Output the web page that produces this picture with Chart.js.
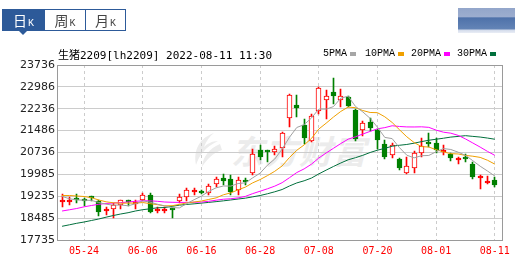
<!DOCTYPE html>
<html>
<head>
<meta charset="utf-8">
<script src="https://cdn.jsdelivr.net/npm/chart.js@4.4.0/dist/chart.umd.min.js"></script>
<style>
  body { margin: 0; background: #fff; }
  #box { position: relative; width: 515px; height: 260px; overflow: hidden; background: #fff; }
  #chart { position: absolute; left: 0; top: 0; z-index: 1; }
  .tabs { position: absolute; left: 2px; top: 9px; width: 122px; height: 20px; border: 1px solid #2d5a99; z-index: 2; }
  .tab { position: absolute; top: 0; height: 20px; line-height: 20px; text-align: center; color: #444; white-space: nowrap; }
  .tab .c { font: 14px "Noto Sans CJK SC"; vertical-align: baseline; }
  .tab .k { font: 10px "Liberation Mono"; vertical-align: baseline; margin-left: 1px; }
  .tab.on { background: #2d5a99; color: #fff; }
  .arrow { position: absolute; left: 19px; top: 31px; width: 0; height: 0; border-left: 4px solid transparent; border-right: 4px solid transparent; border-top: 4px solid #2d5a99; z-index: 2; }
  .blur { position: absolute; left: 458px; top: 8px; width: 57px; height: 25px; z-index: 2;
    background: linear-gradient(to bottom, #93a6ca 0%, #9cadcf 34%, #4f72aa 40%, #6384b6 84%, #d3dbeb 88%, #e9edf5 100%); }
  #title { position: absolute; left: 58px; top: 46px; font: 11px "DejaVu Sans Mono"; line-height: 16px; color: #000; white-space: pre; z-index: 2; }
  #title .cn { font: 11px "Noto Sans CJK SC"; }
  .lg { position: absolute; top: 46px; font: 10px "Liberation Mono"; line-height: 15px; color: #000; z-index: 2; }
  .sq { position: absolute; top: 52px; width: 6px; height: 4px; z-index: 2; }
  .wm { position: absolute; left: 231px; top: 126px; font: italic bold 33px "Noto Sans CJK SC"; color: #ececec; letter-spacing: 1px; z-index: 0; }
  .logo { position: absolute; left: 190px; top: 132px; z-index: 0; }
</style>
</head>
<body>
<div id="box">
  <div class="tabs">
    <div class="tab on" style="left:0;width:41px"><span class="c">日</span><span class="k">K</span></div>
    <div class="tab" style="left:41px;width:40px;border-left:1px solid #2d5a99"><span class="c">周</span><span class="k">K</span></div>
    <div class="tab" style="left:82px;width:39px;border-left:1px solid #2d5a99"><span class="c">月</span><span class="k">K</span></div>
  </div>
  <div class="arrow"></div>
  <div class="blur"></div>
  <div id="title"><span class="cn">生猪</span>2209[lh2209] 2022-08-11 11:30</div>
  <div class="lg" style="left:323px">5PMA</div><div class="sq" style="left:350px;background:#a6a6a6"></div>
  <div class="lg" style="left:365px">10PMA</div><div class="sq" style="left:398px;background:#f0a000"></div>
  <div class="lg" style="left:411px">20PMA</div><div class="sq" style="left:444px;background:#ff00ff"></div>
  <div class="lg" style="left:457px">30PMA</div><div class="sq" style="left:490px;background:#006f3c"></div>
  <svg class="logo" width="34" height="36" viewBox="0 0 34 36">
    <path d="M24 1 C10 6 3 17 6 33 C9 24 15 15 28 9 C22 9 17 12 14 15 C16 9 20 4 24 1 Z" fill="#ececec"/>
    <path d="M30 12 C20 16 13 24 12 35 C17 27 23 21 32 18 Z" fill="#ececec"/>
  </svg>
  <div class="wm">东方财富</div>
  <canvas id="chart" width="515" height="260"></canvas>
</div>
<script>
const xLabels = ['05-24', '06-06', '06-16', '06-28', '07-08', '07-20', '08-01', '08-11'];
const xTickIdx = [3, 11, 19, 27, 35, 43, 51, 59];
const yTicks = [17735, 18485, 19235, 19985, 20736, 21486, 22236, 22986, 23736];

const opens = [19030, 19030, 19120, 19095, 19200, 19083, 18740, 18788, 18925, 19060,
  18975, 19107, 19278, 18715, 18715, 18780, 19072, 19220, 19375, 19385,
  19336, 19655, 19871, 19816, 19450, 19792, 20022, 20821, 20775, 20742,
  20890, 21908, 22364, 21678, 21140, 22148, 22536, 22800, 22536, 22628,
  22203, 21517, 21771, 21507, 21027, 20650, 20512, 20043, 20194, 20708,
  21065, 21051, 20742, 20674, 20465, 20591, 20341, 19848, 19679, 19792];
const highs = [19302, 19220, 19312, 19185, 19244, 19107, 18856, 18993, 19107, 19107,
  19107, 19357, 19336, 18856, 18856, 18820, 19312, 19508, 19528, 19450,
  19645, 19885, 19988, 19964, 19885, 19851, 20845, 20993, 20821, 20969,
  21428, 22741, 22707, 21884, 22056, 22992, 22879, 23290, 22913, 22662,
  22227, 21826, 21908, 21541, 21164, 21051, 20537, 20591, 20797, 21222,
  21414, 21222, 20993, 20728, 20591, 20684, 20399, 19964, 19930, 19906];
const lows = [18877, 18935, 18993, 18901, 19083, 18568, 18592, 18479, 18788, 18901,
  18788, 19083, 18651, 18651, 18651, 18500, 18993, 19083, 19278, 19302,
  19278, 19563, 19621, 19278, 19278, 19621, 19964, 20478, 20420, 20650,
  20591, 21620, 21942, 21027, 21085, 22056, 21884, 22398, 22285, 22306,
  21140, 21311, 21483, 20855, 20512, 20537, 20135, 19998, 20043, 20591,
  20934, 20708, 20650, 20454, 20341, 20420, 19827, 19484, 19655, 19542];
const closes = [19065, 19065, 19095, 19070, 19170, 18705, 18770, 18935, 19096, 19035,
  19045, 19278, 18705, 18745, 18745, 18760, 19220, 19450, 19405, 19360,
  19587, 19816, 19768, 19391, 19792, 19714, 20674, 20571, 20750, 20855,
  21404, 22707, 22251, 21233, 21997, 22947, 22683, 22683, 22683, 22340,
  21198, 21737, 21575, 21164, 20591, 20993, 20194, 20272, 20708, 20958,
  21040, 20821, 20821, 20557, 20490, 20502, 19906, 19875, 19734, 19621];

const ma5 = [19230, 19150, 19110, 19100, 19093, 19021, 18962, 18930, 18935, 18908,
  18976, 19078, 19032, 18962, 18904, 18847, 18835, 18984, 19116, 19239,
  19404, 19524, 19587, 19584, 19671, 19696, 19868, 20028, 20300, 20513,
  20851, 21257, 21593, 21690, 21918, 22227, 22222, 22309, 22599, 22667,
  22317, 22128, 21907, 21603, 21253, 21212, 20903, 20643, 20552, 20625,
  20634, 20760, 20870, 20839, 20746, 20638, 20455, 20266, 20101, 19928];
const ma10 = [19261, 19261, 19244, 19227, 19185, 19107, 19045, 19011, 18997, 19001,
  18999, 19020, 18981, 18948, 18906, 18911, 18956, 19008, 19039, 19071,
  19126, 19179, 19286, 19350, 19455, 19550, 19696, 19808, 19942, 20092,
  20274, 20563, 20811, 20995, 21216, 21539, 21740, 21951, 22144, 22293,
  22272, 22175, 22108, 22101, 21960, 21765, 21516, 21275, 21077, 20939,
  20923, 20832, 20756, 20696, 20685, 20636, 20608, 20568, 20470, 20337];
const ma20 = [18729, 18771, 18815, 18873, 18918, 18959, 18987, 19004, 19017, 19038,
  19062, 19079, 19079, 19062, 19038, 19028, 19024, 19024, 19028, 19036,
  19062, 19100, 19133, 19149, 19180, 19231, 19326, 19408, 19491, 19582,
  19700, 19871, 20048, 20173, 20335, 20545, 20718, 20879, 21043, 21192,
  21273, 21369, 21459, 21548, 21588, 21652, 21628, 21613, 21611, 21616,
  21598, 21503, 21432, 21398, 21323, 21201, 21062, 20921, 20774, 20638];
const ma30 = [18205, 18256, 18308, 18352, 18404, 18455, 18517, 18575, 18627, 18671,
  18729, 18774, 18805, 18839, 18850, 18890, 18930, 18955, 18975, 19000,
  19025, 19050, 19078, 19108, 19140, 19170, 19215, 19260, 19320, 19388,
  19466, 19587, 19692, 19765, 19859, 20000, 20131, 20256, 20375, 20485,
  20557, 20639, 20735, 20815, 20877, 20951, 20984, 21011, 21055, 21108,
  21156, 21190, 21225, 21264, 21287, 21313, 21288, 21265, 21231, 21190];

const RED = '#ff0000', GREEN = '#008000';
const up = opens.map((o, i) => closes[i] >= o);
const candleColor = up.map(u => u ? RED : GREEN);
// thin bodies look filled, taller up bodies are hollow
const bodyFill = up.map((u, i) => (u && Math.abs(closes[i] - opens[i]) > 90) ? '#ffffff' : candleColor[i]);

const pts = arr => arr.map((v, i) => ({ x: i, y: v }));

// keep bars on whole pixels so the candles stay crisp
const snap = {
  id: 'snap',
  beforeDatasetsDraw(chart) {
    chart.data.datasets.forEach((ds, i) => {
      if (ds.type === 'line') return;
      chart.getDatasetMeta(i).data.forEach(el => {
        el.x = Math.floor(el.x) + 0.5;
        el.y = Math.round(el.y);
        el.base = Math.round(el.base);
      });
    });
  }
};

const frame = {
  id: 'frame',
  beforeDatasetsDraw(chart) {
    const { ctx, chartArea: a } = chart;
    ctx.save();
    ctx.strokeStyle = '#9a9a9a';
    ctx.lineWidth = 1;
    ctx.strokeRect(Math.round(a.left) + 0.5, Math.round(a.top) + 0.5,
      Math.round(a.right - a.left), Math.round(a.bottom - a.top));
    ctx.restore();
  }
};

const line = (data, color) => ({
  type: 'line', data: pts(data), borderColor: color, borderWidth: 1,
  pointRadius: 0, tension: 0, fill: false, order: 0
});

new Chart(document.getElementById('chart'), {
  type: 'bar',
  data: {
    datasets: [
      line(ma5, '#a0a0a0'),
      line(ma10, '#f0a000'),
      line(ma20, '#ff00ff'),
      line(ma30, '#006f3c'),
      {
        data: opens.map((o, i) => ({ x: i, y: [o, closes[i]] })),
        backgroundColor: bodyFill, borderColor: candleColor, borderWidth: 1,
        borderSkipped: false, grouped: false, barThickness: 5, maxBarThickness: 5,
        barPercentage: 1, categoryPercentage: 1, minBarLength: 2, order: 1
      },
      {
        data: lows.map((l, i) => ({ x: i, y: [l, highs[i]] })),
        backgroundColor: candleColor, borderWidth: 0,
        grouped: false, barThickness: 1, maxBarThickness: 1,
        barPercentage: 1, categoryPercentage: 1, order: 2
      }
    ]
  },
  options: {
    responsive: false,
    animation: false,
    devicePixelRatio: 1,
    layout: { padding: { top: 65, right: 8, left: 0, bottom: 0 } },
    plugins: { legend: { display: false }, tooltip: { enabled: false } },
    scales: {
      x: {
        type: 'linear', min: -0.69, max: 60.04, offset: false,
        afterBuildTicks: s => { s.ticks = xTickIdx.map(v => ({ value: v })); },
        afterFit: s => { s.height = 20; },
        grid: { color: '#cccccc', lineWidth: 1, drawTicks: false, offset: false },
        border: { display: false, dash: [3, 3] },
        ticks: {
          autoSkip: false, maxRotation: 0, padding: 5, color: '#ff0000',
          font: { family: 'DejaVu Sans Mono', size: 10 },
          callback: (v, i) => xLabels[i]
        }
      },
      y: {
        type: 'linear', min: 17735, max: 23736,
        afterBuildTicks: s => { s.ticks = yTicks.map(v => ({ value: v })); },
        afterFit: s => { s.width = 57; },
        grid: { color: '#cccccc', lineWidth: 1, drawTicks: false },
        border: { display: false },
        ticks: {
          padding: 2, color: '#222222',
          font: { family: 'DejaVu Sans', size: 11 },
          callback: (v, i) => String(yTicks[i])
        }
      }
    }
  },
  plugins: [snap, frame]
});
</script>
</body>
</html>
